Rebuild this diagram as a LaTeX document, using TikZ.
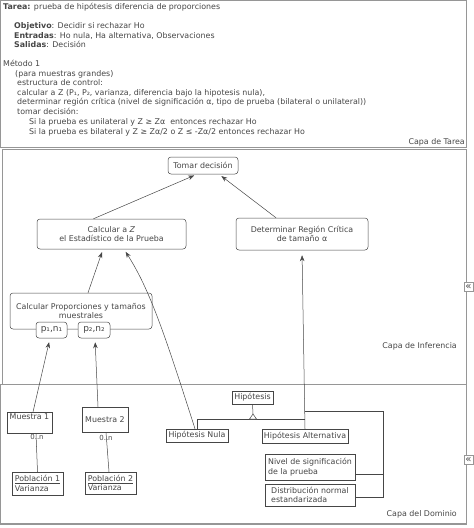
\documentclass[tikz,border=0pt]{standalone}
\usepackage{fontspec}
\setmainfont{DejaVu Sans}
\usetikzlibrary{positioning,arrows.meta}
\definecolor{frame}{RGB}{150,150,150}
\definecolor{ink}{RGB}{70,70,70}

\begin{document}
\begin{tikzpicture}[
    x=1pt, y=-1pt,
    font=\fontsize{7.9}{9.6}\selectfont,
    panel/.style={draw=frame, line width=0.9pt},
    line/.style={text=ink, anchor=base west, inner sep=0pt},
    box/.style={rectangle, draw=ink, line width=0.5pt, rounded corners=3pt, align=center, inner sep=1pt, text=ink, fill=white},
    classbox/.style={rectangle, draw=ink, line width=0.5pt, inner sep=1.5pt, text=ink, fill=white},
    layer/.style={text=ink, anchor=east, inner sep=0pt},
    mult/.style={text=ink, font=\fontsize{7}{7}\selectfont, inner sep=0pt},
    fold/.style={draw=frame, line width=0.6pt, inner sep=0pt, minimum width=9, minimum height=9, text=ink, fill=white, font=\fontsize{10}{10}\selectfont},
    arrow/.style={-{Stealth[length=6pt,width=4.5pt]}, draw=ink, line width=0.5pt, shorten >=3pt}
]
\useasboundingbox (0,0) rectangle (474,528);

% Layers
\draw[panel] (0.5,0.5) rectangle (466,147);
\draw[panel] (2,149) rectangle (466,384);
\draw[panel] (0.5,384) rectangle (466,524);
\draw[frame, line width=1.6pt] (0,524) -- (466,524);
\node[fold] (fold1) at (468.5,287) {«};
\node[fold] (fold2) at (468.5,460) {«};

% Capa de Tarea
\node[line] (t1) at (3,9.5) {\textbf{Tarea:} prueba de hipótesis diferencia de proporciones};
\node[line] (t2) at (14,28.5) {\textbf{Objetivo}: Decidir si rechazar Ho};
\node[line] (t3) at (14,38) {\textbf{Entradas}: Ho nula, Ha alternativa, Observaciones};
\node[line] (t4) at (14,47.5) {\textbf{Salidas}: Decisión};
\node[line] (t5) at (3,66.5) {Método 1};
\node[line] (t6) at (15,76) {(para muestras grandes)};
\node[line] (t7) at (17,85.5) {estructura de control:};
\node[line] (t8) at (17,95) {calcular a Z (P₁, P₂, varianza, diferencia bajo la hipotesis nula),};
\node[line] (t9) at (17,104.5) {determinar región crítica (nivel de significación α, tipo de prueba (bilateral o unilateral))};
\node[line] (t10) at (17,114) {tomar decisión:};
\node[line] (t11) at (29,124.5) {Si la prueba es unilateral y Z ≥ Zα\ \ entonces rechazar Ho};
\node[line] (t12) at (29,134) {Si la prueba es bilateral y Z ≥ Zα/2 o Z ≤ -Zα/2 entonces rechazar Ho};
\node[layer] (tarea) at (465,142) {Capa de Tarea};

% Capa de Inferencia
\node[box, minimum width=70, minimum height=17] (tomar) at (203,165.5) {Tomar decisión};
\node[box, minimum width=149, minimum height=30] (calcz) at (111.5,234) {Calcular a \textit{Z}\\el Estadístico de la Prueba};
\node[box, minimum width=132, minimum height=32] (region) at (302,234) {Determinar Región Crítica\\de tamaño α};
\node[box, minimum width=142, minimum height=36] (calcprop) at (81,311) {Calcular Proporciones y tamaños\\muestrales};
\node[box, minimum width=31, minimum height=16, font=\fontsize{9}{9}\selectfont] (p1) at (51.5,330) {p₁,n₁};
\node[box, minimum width=32, minimum height=16, font=\fontsize{9}{9}\selectfont] (p2) at (94,330) {p₂,n₂};
\node[layer] (inferencia) at (457,346) {Capa de Inferencia};

% Capa del Dominio
\node[classbox, anchor=north, minimum width=45, text height=6, text depth=12] (m1) at (29.5,412) {Muestra 1};
\node[classbox, minimum width=46, minimum height=25] (m2) at (105,419.5) {Muestra 2};
\node[mult] (mult1) at (37,436.5) {0..n};
\node[mult] (mult2) at (106,438) {0..n};
\node[classbox, minimum width=51, minimum height=23, align=left] (pob1) at (37.5,483.5) {\underline{Población 1}\\Varianza};
\node[classbox, minimum width=51, minimum height=22, align=left] (pob2) at (110.5,483) {\underline{Población 2}\\Varianza};
\node[classbox, minimum width=62, minimum height=13] (hnula) at (197,435.5) {Hipótesis Nula};
\node[classbox, minimum width=41, minimum height=13] (hyp) at (252.5,397.5) {Hipótesis};
\node[classbox, minimum width=86, minimum height=14] (halt) at (305,436) {Hipótesis Alternativa};
\node[classbox, minimum width=90, minimum height=26, align=left] (nivel) at (310,467) {Nivel de significación\\de la prueba};
\node[classbox, minimum width=90, minimum height=22, align=left] (dist) at (310,495) {Distribución normal\\estandarizada};
\node[layer] (dominio) at (457,514) {Capa del Dominio};

% Arrows
\draw[arrow] ([xshift=-18pt]calcz.north) -- ([xshift=-6pt]tomar.south);
\draw[arrow] ([xshift=-26pt]region.north) -- ([xshift=16pt]tomar.south);
\draw[arrow] ([xshift=7pt]calcprop.north) -- ([xshift=-8.5pt]calcz.south);
\draw[arrow] ([xshift=-2pt]hnula.north) .. controls (165,335) and (150,290) .. ([xshift=12.5pt]calcz.south);
\draw[arrow, shorten >=5pt] (halt.north) -- (region.south);
\draw[arrow, shorten >=4pt] ([xshift=3.5pt]m1.north) -- ([xshift=-1.5pt]p1.south);
\draw[arrow, shorten >=4pt] ([xshift=-7pt]m2.north) -- ([xshift=1pt]p2.south);

% Associations
\draw[ink, line width=0.5pt] ([xshift=6.5pt]m1.south) -- (pob1.north);
\draw[ink, line width=0.5pt] ([xshift=1pt]m2.south) -- ([xshift=-1.5pt]pob2.north);
\coordinate (gen) at (253,419);
\draw[ink, line width=0.5pt] (hyp.south) -- ([yshift=5pt]gen);
\draw[ink, line width=0.5pt] (hnula.north) -- (hnula.north |- gen) -- (halt.north |- gen);
\draw[ink, line width=0.5pt, fill=white] ([xshift=-3.5pt]gen) -- ([yshift=5pt]gen) -- ([xshift=3.5pt]gen) -- cycle;
\coordinate (brk) at (383,411);
\coordinate (niv) at ([yshift=-7pt]nivel.east);
\coordinate (dis) at ([yshift=-2pt]dist.east);
\draw[ink, line width=0.5pt] (halt.north |- brk) -- (brk) -- (brk |- dis) -- (dis);
\draw[ink, line width=0.5pt] (niv) -- (niv -| brk);

\end{tikzpicture}
\end{document}
